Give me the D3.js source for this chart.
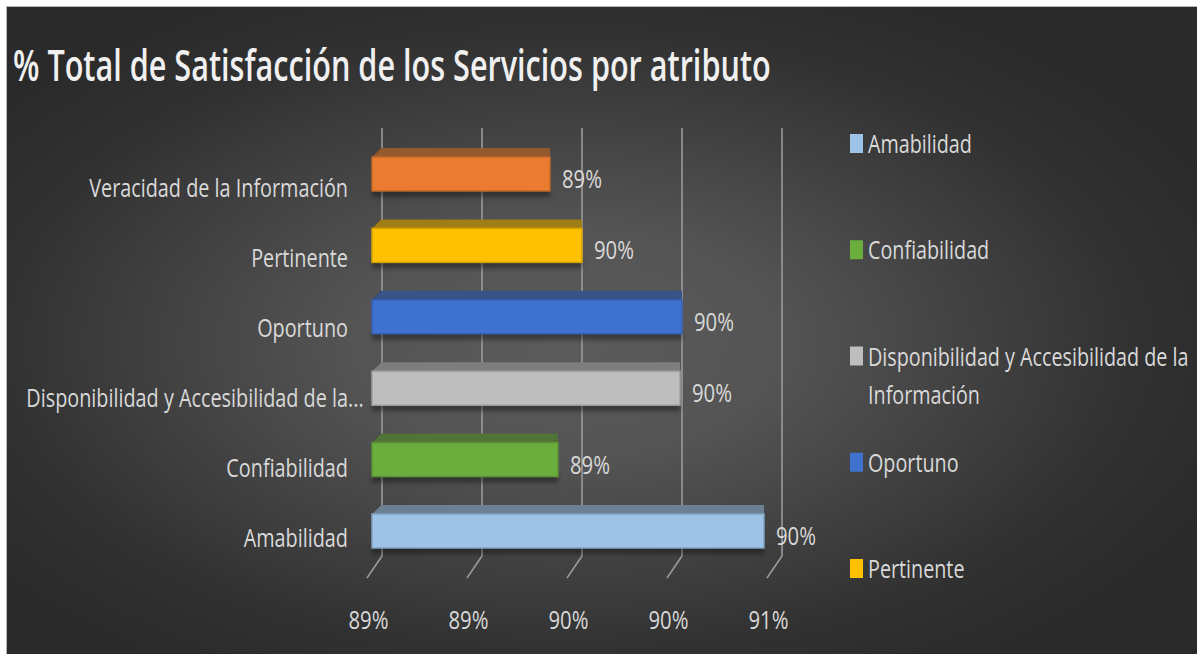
<!DOCTYPE html>
<html>
<head>
<meta charset="utf-8">
<script src="https://cdn.jsdelivr.net/npm/d3@7"></script>
<style>
  html, body { margin: 0; padding: 0; background: #ffffff; }
  svg { display: block; }
  text { font-family: "Open Sans", "Noto Sans", sans-serif; }
</style>
</head>
<body>
<svg id="chart" width="1197" height="654"></svg>
<script>
// ---- data -------------------------------------------------------------
const title = "% Total de Satisfacción de los Servicios por atributo";
const categories = [
  "Veracidad de la Información",
  "Pertinente",
  "Oportuno",
  "Disponibilidad y Accesibilidad de la Información",
  "Confiabilidad",
  "Amabilidad"
];
const values = [0.8939, 0.8955, 0.9005, 0.9004, 0.8943, 0.9046];
const barColors = ["#E97C30", "#FFC000", "#3F72CF", "#BEBEBE", "#6BAE3E", "#9DC3E6"];
const legendItems = ["Amabilidad", "Confiabilidad", "Disponibilidad y Accesibilidad de la Información", "Oportuno", "Pertinente"];
const tickValues = [0.885, 0.89, 0.895, 0.90, 0.905];

// ---- setup -------------------------------------------------------------
const W = 1197, H = 654;
const svg = d3.select("#chart");
const pct = d3.format(".0%");
const colorOf = d3.scaleOrdinal().domain(categories).range(barColors);
const valueOf = new Map(categories.map((c, i) => [c, values[i]]));

const defs = svg.append("defs");
const bg = defs.append("radialGradient").attr("id", "bg")
  .attr("cx", 0.47).attr("cy", 0.52).attr("r", 0.6);
bg.append("stop").attr("offset", 0).attr("stop-color", "#5b5b5b");
bg.append("stop").attr("offset", 0.3).attr("stop-color", "#545454");
bg.append("stop").attr("offset", 0.8).attr("stop-color", "#313131");
bg.append("stop").attr("offset", 1).attr("stop-color", "#2a2a2a");
defs.append("filter").attr("id", "soft").attr("x", "-5%").attr("y", "-50%").attr("width", "110%").attr("height", "200%")
  .append("feGaussianBlur").attr("stdDeviation", 2.2);

svg.append("rect").attr("x", 6.5).attr("y", 6.5).attr("width", W - 6).attr("height", H - 6)
  .attr("fill", "url(#bg)").attr("stroke", "#b5b5b5").attr("stroke-width", 1);

// text measuring helpers (the chart's type is set condensed)
function natWidth(str, size, weight) {
  const t = svg.append("text").attr("font-size", size).attr("font-weight", weight).text(str);
  const w = t.node().getComputedTextLength();
  t.remove();
  return w;
}
function squeeze(ref, size, weight, target) { return target / natWidth(ref, size, weight); }

const LABEL_SIZE = 25;
const kTitle = squeeze(title, 44, 600, 758);
const kCat = squeeze("Veracidad de la Información", LABEL_SIZE, 400, 259);
const kLeg = squeeze("Amabilidad", LABEL_SIZE, 400, 104);
const kNum = squeeze("89%", LABEL_SIZE, 400, 40);

function putText(parent, str, x, y, k, opts) {
  const o = Object.assign({ size: LABEL_SIZE, weight: 400, anchor: "start", fill: "#d9d9d9" }, opts || {});
  return parent.append("text")
    .attr("transform", `translate(${x},${y}) scale(${k},1)`)
    .attr("font-size", o.size).attr("font-weight", o.weight)
    .attr("text-anchor", o.anchor).attr("fill", o.fill)
    .text(str);
}

// ---- title -------------------------------------------------------------
putText(svg, title, 13, 81, kTitle, { size: 44, weight: 600, fill: "#f0f0f0" });

// ---- scales ------------------------------------------------------------
const x = d3.scaleLinear().domain([tickValues[0], tickValues[tickValues.length - 1]]).range([382, 782]);
const y = d3.scaleBand().domain(categories).range([138, 567]).paddingInner(0.524).paddingOuter(0.266);
const yFront = d3.scalePoint().domain(categories).range([188, 538]);

const BAR_DX = -10;     // bar face sits in front of the back wall
const FRONT_DX = -14;   // floor front edge
const DEPTH = 9;        // visible bar top depth

// ---- gridlines (back wall + floor slant) --------------------------------
const gridTop = 128, gridBottom = 556, floorFront = 578;
svg.append("g").selectAll("path").data(tickValues).join("path")
  .attr("d", t => `M${x(t)},${gridTop}V${gridBottom}L${x(t) - 15},${floorFront}`)
  .attr("fill", "none").attr("stroke", "#9a9a9a").attr("stroke-width", 1.6);

// ---- bars --------------------------------------------------------------
const bars = svg.append("g").selectAll("g").data(categories).join("g");
bars.each(function (c) {
  const g = d3.select(this);
  const col = colorOf(c);
  const y0 = y(c), bw = y.bandwidth();
  const x0 = x(x.domain()[0]) + BAR_DX, x1 = x(valueOf.get(c)) + BAR_DX;
  // shadow under the bar
  g.append("rect").attr("x", x0).attr("y", y0 + bw - 3).attr("width", x1 - x0).attr("height", 9)
    .attr("fill", "#000").attr("opacity", 0.35).attr("filter", "url(#soft)");
  // left end cap
  g.append("path")
    .attr("d", `M${x0},${y0}L${x0 + DEPTH},${y0 - DEPTH}V${y0 + bw - DEPTH}L${x0},${y0 + bw}Z`)
    .attr("fill", "#141414");
  // top face
  g.append("path")
    .attr("d", `M${x0},${y0}L${x0 + DEPTH},${y0 - DEPTH}H${x1}V${y0}Z`)
    .attr("fill", d3.interpolateRgb(col, "#2e2e2e")(0.45));
  // front face
  g.append("rect").attr("x", x0).attr("y", y0).attr("width", x1 - x0).attr("height", bw)
    .attr("fill", col).attr("stroke", d3.color(col).darker(0.5)).attr("stroke-width", 1.5);
  // value label
  putText(g, pct(valueOf.get(c)), x1 + 12, y0 + bw / 2 + 14, kNum, {});
});

// ---- category labels ----------------------------------------------------
const catG = svg.append("g");
const CAT_RIGHT = 348, CAT_MAX = 345;
categories.forEach(c => {
  let str = c;
  if (natWidth(str, LABEL_SIZE, 400) * kCat > CAT_MAX) {
    const words = c.split(" ");
    while (words.length > 1 && natWidth(words.join(" ") + "...", LABEL_SIZE, 400) * kCat > CAT_MAX) words.pop();
    str = words.join(" ") + "...";
  }
  const overhang = str.endsWith("...") ? natWidth("...", LABEL_SIZE, 400) * kCat : 0;
  putText(catG, str, CAT_RIGHT + overhang, yFront(c) + 9, kCat, { anchor: "end" });
});

// ---- value axis (front edge) -------------------------------------------
const axis = d3.axisBottom(x).tickValues(tickValues).tickFormat(pct).tickSize(0).tickPadding(0);
const axG = svg.append("g").attr("transform", `translate(${FRONT_DX},611)`).call(axis);
axG.select(".domain").remove();
axG.selectAll(".tick text")
  .attr("font-family", "\"Open Sans\", sans-serif")
  .attr("font-size", LABEL_SIZE).attr("fill", "#d9d9d9")
  .attr("transform", `scale(${kNum},1)`);

// ---- legend ------------------------------------------------------------
const legY = d3.scalePoint().domain(legendItems).range([153, 578]);
const legG = svg.append("g");
const LEG_X = 850, LEG_MAX = 325;
legendItems.forEach(c => {
  const by = legY(c);
  legG.append("rect").attr("x", LEG_X).attr("y", by - 19).attr("width", 13).attr("height", 19)
    .attr("fill", colorOf(c));
  // wrap long names
  const words = c.split(" ");
  const lines = [];
  let cur = "";
  words.forEach(w => {
    const trial = cur ? cur + " " + w : w;
    if (cur && natWidth(trial, LABEL_SIZE, 400) * kLeg > LEG_MAX) { lines.push(cur); cur = w; }
    else cur = trial;
  });
  lines.push(cur);
  lines.forEach((ln, i) => putText(legG, ln, LEG_X + 18, by + i * 38, kLeg, {}));
});
</script>
</body>
</html>
